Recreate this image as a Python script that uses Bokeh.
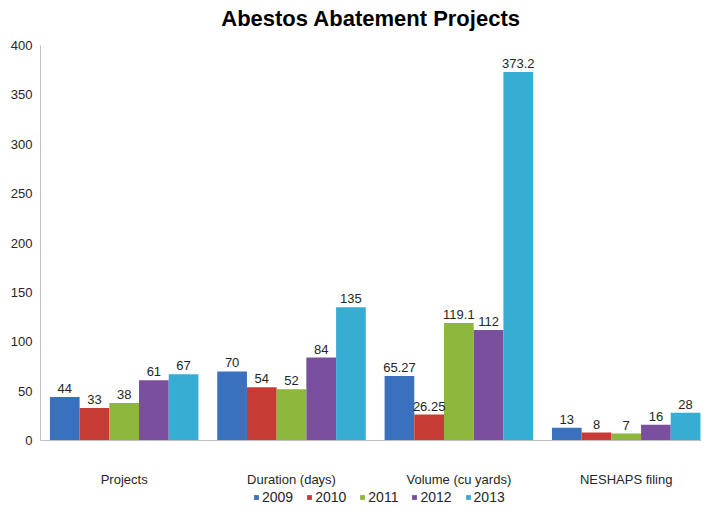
from bokeh.plotting import figure
from bokeh.layouts import column
from bokeh.models import ColumnDataSource, Range1d, FixedTicker, LabelSet, Label, Legend, LegendItem
from bokeh.core.properties import value
from bokeh.transform import dodge
from bokeh.embed import file_html
from bokeh.resources import INLINE

title_text = "Abestos Abatement Projects"
categories = ["Projects", "Duration (days)", "Volume (cu yards)", "NESHAPS filing"]
years = ["2009", "2010", "2011", "2012", "2013"]
v2009 = [44, 70, 65.27, 13]
v2010 = [33, 54, 26.25, 8]
v2011 = [38, 52, 119.1, 7]
v2012 = [61, 84, 112, 16]
v2013 = [67, 135, 373.2, 28]
labels2009 = ["44", "70", "65.27", "13"]
labels2010 = ["33", "54", "26.25", "8"]
labels2011 = ["38", "52", "119.1", "7"]
labels2012 = ["61", "84", "112", "16"]
labels2013 = ["67", "135", "373.2", "28"]
y_ticks = [0, 50, 100, 150, 200, 250, 300, 350, 400]

colors = ["#3a71bf", "#c63c35", "#8db73d", "#7a509e", "#37add3"]
series = [v2009, v2010, v2011, v2012, v2013]
series_labels = [labels2009, labels2010, labels2011, labels2012, labels2013]

FONT = "Liberation Sans"


def blank(fig):
    fig.axis.visible = False
    fig.xgrid.grid_line_color = None
    fig.ygrid.grid_line_color = None
    fig.outline_line_color = None


# title strip
tf = figure(width=701, height=36, output_backend="svg", toolbar_location=None,
            x_range=Range1d(0, 1), y_range=Range1d(0, 1), min_border=0)
blank(tf)
tf.add_layout(Label(x=0.5, y=0.5, text=title_text, text_align="center",
                    text_baseline="middle", text_font=FONT, text_font_size="22px",
                    text_font_style="bold", text_color="#000000"))

# main chart
xpos = [i + 0.5 for i in range(len(categories))]
data = {"x": xpos}
for y, vals, labs in zip(years, series, series_labels):
    data["v" + y] = vals
    data["l" + y] = labs
src = ColumnDataSource(data)

p = figure(width=701, height=453, output_backend="svg", toolbar_location=None,
           x_range=Range1d(0, 3.95), y_range=Range1d(0, 400),
           min_border_left=40, min_border_right=0, min_border_top=9, min_border_bottom=46)
p.outline_line_color = None
p.xgrid.grid_line_color = None
p.ygrid.grid_line_color = None

bw = 0.1775
offsets = [-2 * bw, -bw, 0, bw, 2 * bw]
for y, c, off in zip(years, colors, offsets):
    p.vbar(x=dodge("x", off), top="v" + y, width=bw, source=src,
           fill_color=c, line_color=None)
    lab = LabelSet(x=dodge("x", off), y="v" + y, text="l" + y, source=src,
                   text_align="center", text_baseline="bottom", y_offset=4,
                   text_font=value(FONT), text_font_size="13px", text_color="#262626")
    p.add_layout(lab)

p.yaxis.ticker = FixedTicker(ticks=y_ticks)
p.yaxis.major_tick_line_color = None
p.yaxis.major_tick_out = 0
p.yaxis.major_tick_in = 0
p.yaxis.minor_tick_line_color = None
p.yaxis.axis_line_color = "#bfbfbf"
p.yaxis.major_label_standoff = 8
p.yaxis.major_label_text_font = FONT
p.yaxis.major_label_text_font_size = "13px"
p.yaxis.major_label_text_color = "#262626"

p.xaxis.ticker = FixedTicker(ticks=xpos)
p.xaxis.major_label_overrides = {x: c for x, c in zip(xpos, categories)}
p.xaxis.major_tick_line_color = None
p.xaxis.major_tick_out = 0
p.xaxis.major_tick_in = 0
p.xaxis.minor_tick_line_color = None
p.xaxis.axis_line_color = "#bfbfbf"
p.xaxis.major_label_standoff = 31
p.xaxis.major_label_text_font = FONT
p.xaxis.major_label_text_font_size = "13px"
p.xaxis.major_label_text_color = "#262626"

# legend strip below the chart
lg = figure(width=701, height=16, output_backend="svg", toolbar_location=None,
            x_range=Range1d(0, 1), y_range=Range1d(0, 1), min_border=0)
blank(lg)
items = []
for y, c in zip(years, colors):
    r = lg.vbar(x=[5], top=[1], width=0.1, fill_color=c, line_color=None)
    items.append(LegendItem(label=y, renderers=[r]))
legend = Legend(items=items, orientation="horizontal", location=(213, 0),
                glyph_width=6, glyph_height=6, label_text_font=FONT,
                label_text_font_size="14px", label_text_color="#262626",
                label_standoff=3, spacing=13, padding=0, margin=0,
                border_line_color=None, background_fill_alpha=0, label_height=14)
lg.add_layout(legend)

layout = column(tf, p, lg, spacing=0)
open("out.html", "w").write(file_html(layout, INLINE))
